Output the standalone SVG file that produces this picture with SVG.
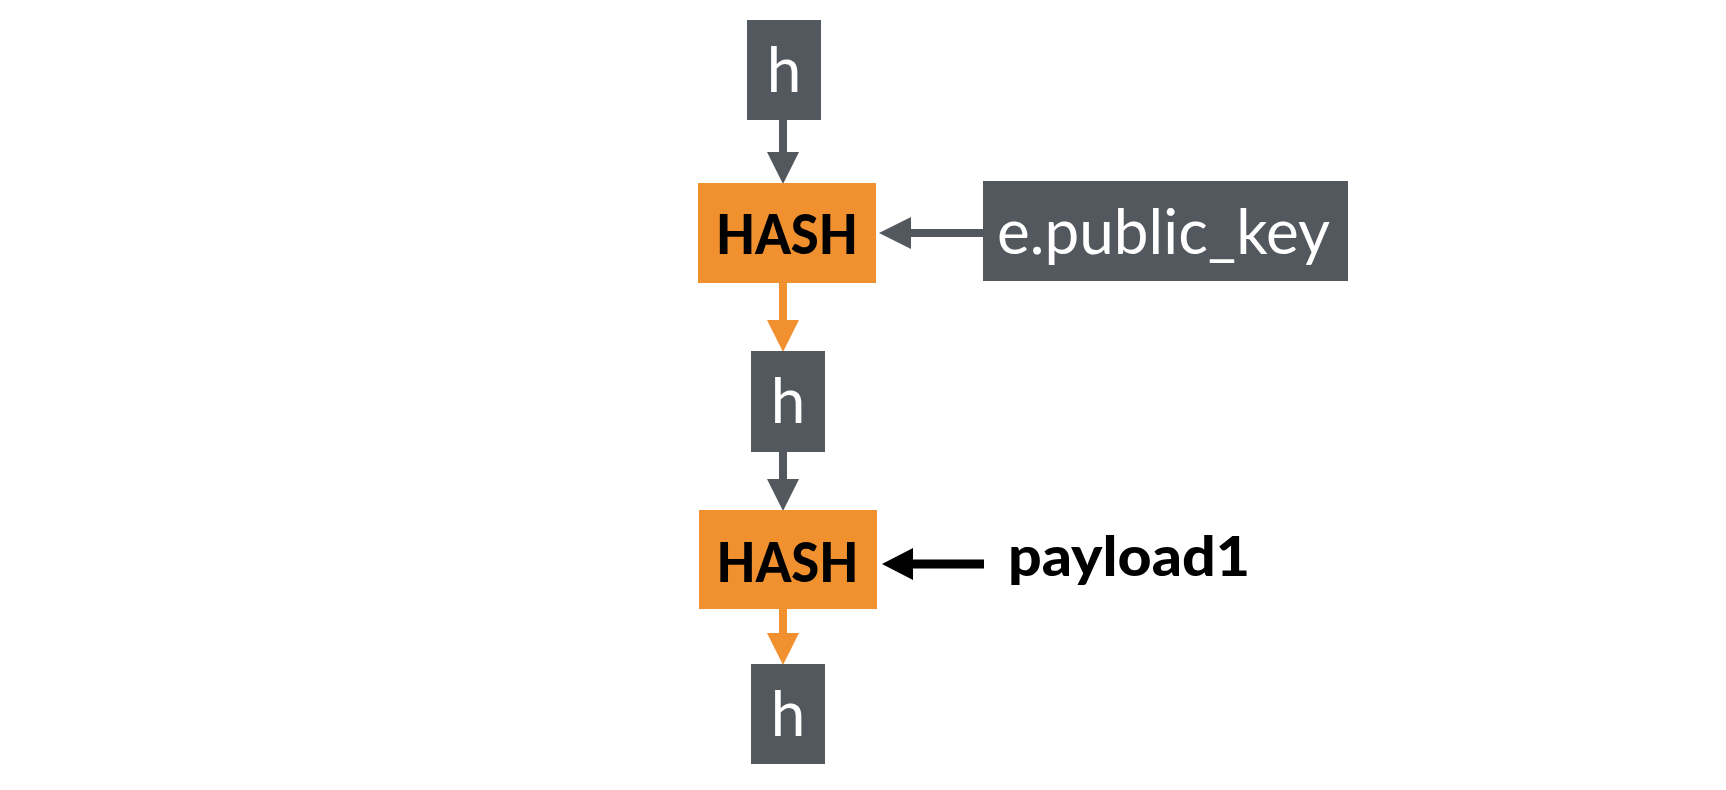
<svg xmlns="http://www.w3.org/2000/svg" width="1726" height="790" viewBox="0 0 1726 790">
  <style>
    .gray { fill: #53575e; }
    .orange { fill: #f0902f; }
    .lbl { font-family: Lato, "Source Sans Pro", "Open Sans", "Liberation Sans", sans-serif; fill: #ffffff; font-size: 62px; }
    .hash { font-family: Lato, "Open Sans", "Liberation Sans", sans-serif; font-weight: 900; fill: #000000; font-size: 56px; text-anchor: middle; }
    .pl { font-family: Lato, "Open Sans", "Liberation Sans", sans-serif; font-weight: 900; fill: #000000; font-size: 56px; }
    .cg { stroke: #53575e; stroke-width: 8; fill: none; }
    .co { stroke: #f0902f; stroke-width: 8; fill: none; }
    .cb { stroke: #000000; stroke-width: 9; fill: none; }
  </style>
  <defs>
    <marker id="ag" markerUnits="userSpaceOnUse" markerWidth="32" markerHeight="32" viewBox="0 -16 32 32" refX="0" refY="0" orient="auto">
      <path d="M0,-16 L32,0 L0,16 Z" fill="#53575e"/>
    </marker>
    <marker id="ao" markerUnits="userSpaceOnUse" markerWidth="32" markerHeight="32" viewBox="0 -16 32 32" refX="0" refY="0" orient="auto">
      <path d="M0,-16 L32,0 L0,16 Z" fill="#f0902f"/>
    </marker>
    <marker id="ab" markerUnits="userSpaceOnUse" markerWidth="32" markerHeight="32" viewBox="0 -16 32 32" refX="0" refY="0" orient="auto">
      <path d="M0,-16 L31,0 L0,16 Z" fill="#000000"/>
    </marker>
  </defs>

  <g id="connectors">
    <path class="cg" d="M783,119 L783,152" marker-end="url(#ag)"/>
    <path class="cg" d="M983,233 L911,233" marker-end="url(#ag)"/>
    <path class="co" d="M783,283 L783,320" marker-end="url(#ao)"/>
    <path class="cg" d="M783,451 L783,479" marker-end="url(#ag)"/>
    <path class="cb" d="M984,564 L913,564" marker-end="url(#ab)"/>
    <path class="co" d="M783,608 L783,633" marker-end="url(#ao)"/>
  </g>

  <g id="node-h1">
    <rect class="gray" x="747" y="20" width="74" height="100"/>
    <text class="lbl" x="784" y="92" text-anchor="middle">h</text>
  </g>
  <g id="node-hash1">
    <rect class="orange" x="698" y="183" width="178" height="100"/>
    <text class="hash" x="787" y="254" textLength="142" lengthAdjust="spacingAndGlyphs">HASH</text>
  </g>
  <g id="node-epk">
    <rect class="gray" x="983" y="181" width="365" height="100"/>
    <text class="lbl" x="997" y="254" font-size="58" textLength="333">e.public_key</text>
  </g>
  <g id="node-h2">
    <rect class="gray" x="751" y="351" width="74" height="101"/>
    <text class="lbl" x="788" y="423" text-anchor="middle">h</text>
  </g>
  <g id="node-hash2">
    <rect class="orange" x="699" y="510" width="178" height="99"/>
    <text class="hash" x="787.5" y="582" textLength="142" lengthAdjust="spacingAndGlyphs">HASH</text>
  </g>
  <g id="node-payload1">
    <text class="pl" x="1008" y="576" textLength="242" lengthAdjust="spacingAndGlyphs">payload1</text>
  </g>
  <g id="node-h3">
    <rect class="gray" x="751" y="664" width="74" height="100"/>
    <text class="lbl" x="788" y="736" text-anchor="middle">h</text>
  </g>
</svg>
